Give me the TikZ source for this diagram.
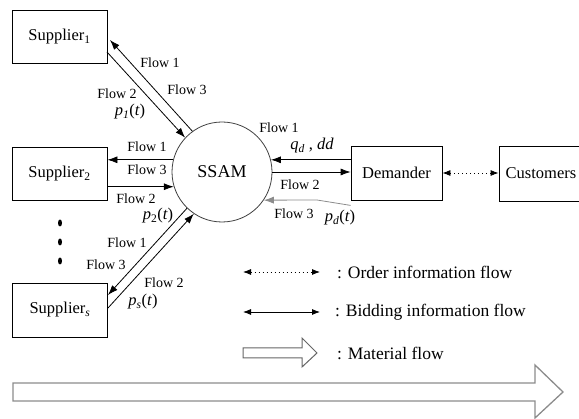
\documentclass[tikz,border=0pt]{standalone}
\usepackage{fontspec}
\setmainfont{Liberation Serif}
\usetikzlibrary{arrows.meta}
\begin{document}
\begin{tikzpicture}[x=1pt,y=-1pt,
  box/.style={draw,line width=0.8pt,minimum width=95pt,minimum height=53pt,inner sep=0pt,font=\fontsize{16.5}{18}\selectfont},
  flowlbl/.style={inner sep=0pt,font=\fontsize{14}{16}\selectfont},
  mathlbl/.style={inner sep=0pt,font=\fontsize{16.5}{18}\selectfont},
  legtxt/.style={inner sep=0pt,anchor=west,font=\fontsize{17.5}{19}\selectfont},
  arr/.style={line width=0.8pt,-{Latex[length=10pt,width=7pt]}},
  legarr/.style={line width=0.8pt,{Latex[length=8pt,width=6pt]}-{Latex[length=8pt,width=6pt]}},
  dotarr/.style={legarr,dash pattern=on 1pt off 3pt},
  hollow/.style={draw=black!60,line width=1pt,fill=white},
  bigdot/.style={fill=black,draw=none}
]
\useasboundingbox (0,0) rectangle (579,419);

% boxes
\node[box] (sup1) at (59.5,36.5) {Supplier\textsubscript{1}};
\node[box] (sup2) at (59.5,173.5) {Supplier\textsubscript{2}};
\node[box,minimum height=54pt] (sups) at (60,310) {Supplier\textsubscript{\textit{s}}};
\node[box,minimum width=91pt,minimum height=54pt] (dem) at (396.5,173) {Demander};
\node[box,minimum width=84pt,minimum height=55pt] (cus) at (541,173.5) {Customers};
\node[circle,draw=black!75,line width=0.8pt,minimum size=100pt,inner sep=0pt,font=\fontsize{18}{20}\selectfont] (ssam) at (222,172) {SSAM};

% supplier 1
\coordinate (s1a) at (110,40);
\coordinate (s1b) at (107,52);
\draw[arr] (ssam.126) -- (s1a);
\draw[arr] (s1b) -- (ssam.137);
\node[flowlbl] (f11) at (160,63) {Flow 1};
\node[flowlbl] (f13) at (187,90) {Flow 3};
\node[flowlbl] (f12) at (117,94) {Flow 2};
\node[mathlbl] (p1) at (130,112) {\textit{p}\textsubscript{\textit{1}}(\textit{t})};

% supplier 2
\draw[arr] (ssam.166) -- (ssam.166 -| sup2.east);
\draw[arr] (sup2.east |- ssam.197) -- (ssam.197);
\node[flowlbl] (f21) at (147,147) {Flow 1};
\node[flowlbl] (f23) at (147,170) {Flow 3};
\node[flowlbl] (f22) at (136,199) {Flow 2};
\node[mathlbl] (p2) at (158,216) {\textit{p}\textsubscript{2}(\textit{t})};

% supplier s
\coordinate (ssa) at (108,295);
\coordinate (ssb) at (108,308);
\draw[arr] (ssam.226) -- (ssa);
\draw[arr] (ssb) -- (ssam.236);
\node[flowlbl] (fs1) at (127,243) {Flow 1};
\node[flowlbl] (fs3) at (106,265) {Flow 3};
\node[flowlbl] (fs2) at (164,283) {Flow 2};
\node[mathlbl] (ps) at (143,302) {\textit{p}\textsubscript{\textit{s}}(\textit{t})};

% dots
\fill[bigdot] (60,223) ellipse (2pt and 3.5pt);
\fill[bigdot] (60,242) ellipse (2pt and 3.5pt);
\fill[bigdot] (60,261) ellipse (2pt and 3.5pt);

% demander
\draw[arr] (dem.west |- ssam.14) -- (ssam.14);
\draw[arr] (ssam.east) -- (ssam.east -| dem.west);
\coordinate (dk) at (317,200);
\draw[arr,draw=black!45] ([yshift=-5pt]dem.south west) -- (dk) -- (ssam.-34);
\node[flowlbl] (fd1) at (279,128) {Flow 1};
\node[mathlbl] (qd) at (312,146) {\textit{q}\textsubscript{\textit{d}} , \textit{dd}};
\node[flowlbl] (fd2) at (300,185) {Flow 2};
\node[flowlbl] (fd3) at (294,214) {Flow 3};
\node[mathlbl] (pd) at (340,218) {\textit{p}\textsubscript{\textit{d}}(\textit{t})};

% demander - customers
\draw[dotarr] (dem.east) -- (cus.west |- dem.east);

% legend
\coordinate (lo1) at (243,272);
\coordinate (lo2) at (320,272);
\draw[dotarr] (lo1) -- (lo2);
\node[legtxt] (lot) at (337,272) {: Order information flow};
\coordinate (lb1) at (243,312);
\coordinate (lb2) at (320,312);
\draw[legarr] (lb1) -- (lb2);
\node[legtxt] (lbt) at (335,312) {: Bidding information flow};
\draw[hollow] (243,348) -- (302,348) -- (302,338) -- (317,353) -- (302,367) -- (302,358) -- (243,358) -- cycle;
\node[legtxt] (lmt) at (337,353) {: Material flow};

% big material arrow
\draw[hollow,line width=1.3pt,draw=black!45] (13,383) -- (535,383) -- (535,365) -- (563,392) -- (535,418) -- (535,401) -- (13,401) -- cycle;
\end{tikzpicture}
\end{document}
